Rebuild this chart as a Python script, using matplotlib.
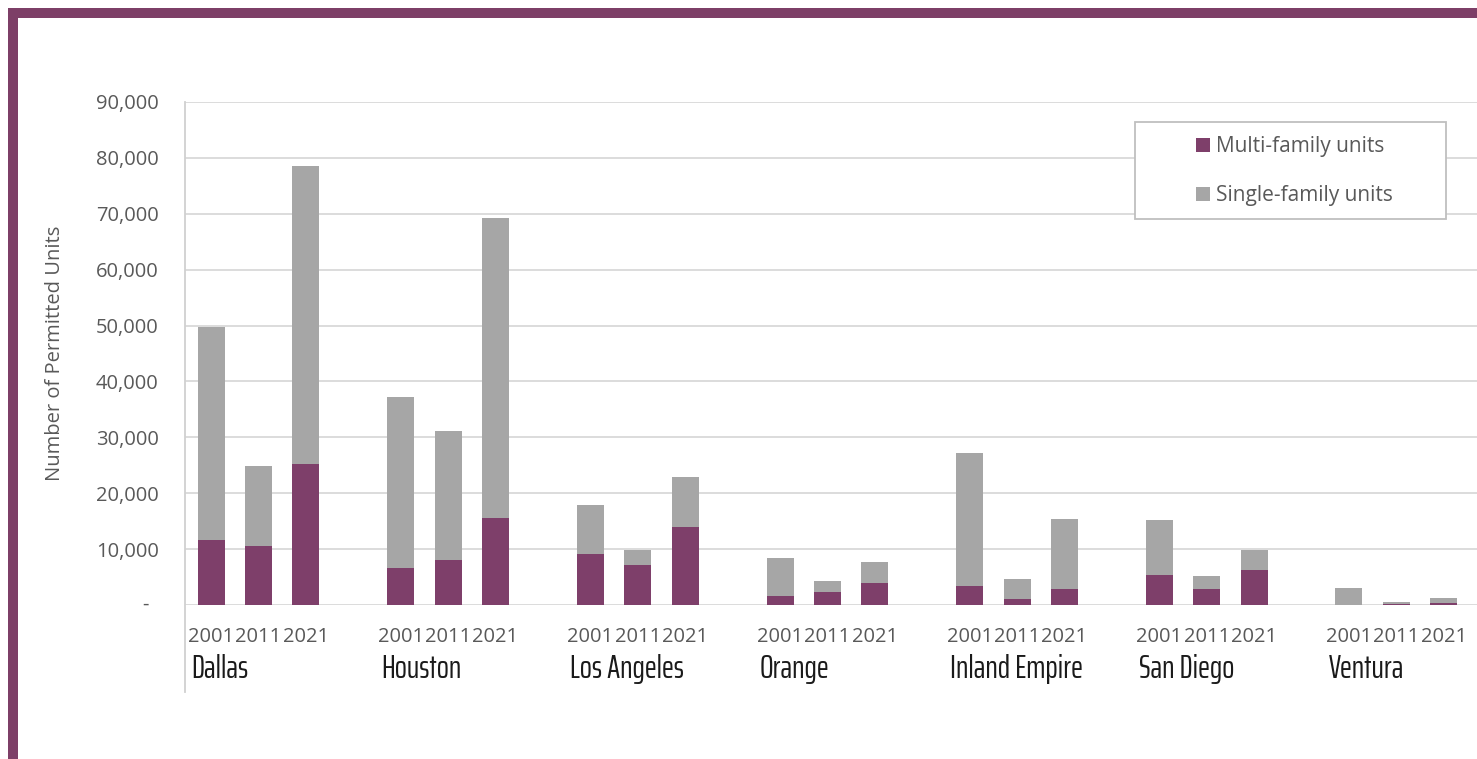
import numpy as np
import matplotlib.pyplot as plt
from matplotlib.patches import Rectangle
from matplotlib.transforms import blended_transform_factory

cities = ["Dallas", "Houston", "Los Angeles", "Orange", "Inland Empire", "San Diego", "Ventura"]
years = ["2001", "2011", "2021"]

# permitted units per city, one value per year
total_units = [
    [49700, 24900, 78500],   # Dallas
    [37200, 31100, 69200],   # Houston
    [17900, 9800, 22900],    # Los Angeles
    [8400, 4300, 7700],      # Orange
    [27200, 4700, 15400],    # Inland Empire
    [15200, 5200, 9800],     # San Diego
    [3000, 500, 1300],       # Ventura
]
multi_units = [
    [11600, 10600, 25200],
    [6600, 8000, 15600],
    [9100, 7200, 14000],
    [1600, 2300, 3900],
    [3400, 1100, 2900],
    [5400, 2900, 6300],
    [0, 100, 400],
]

purple = "#7e3f6a"
grey = "#a6a6a6"
txt_grey = "#595959"
body_font = ["Open Sans", "DejaVu Sans"]
city_font = ["Saira ExtraCondensed", "DejaVu Sans"]

total = np.array(total_units, dtype=float)
multi = np.array(multi_units, dtype=float)
single = total - multi

# each city takes 4 slots: 3 bars + an empty gap
x = np.array([[g * 4 + j for j in range(3)] for g in range(len(cities))], dtype=float)

fig = plt.figure(figsize=(14.77, 7.59), dpi=100)
ax = fig.add_axes([185 / 1477, 1 - 605 / 759, 1 - 185 / 1477, (605 - 102) / 759])

ax.bar(x.ravel(), multi.ravel(), width=0.57, color=purple, label="Multi-family units", zorder=3)
ax.bar(x.ravel(), single.ravel(), width=0.57, bottom=multi.ravel(), color=grey,
       label="Single-family units", zorder=3)

ax.set_ylim(0, 90000)
ax.set_xlim(-0.55, 26.7)
yt = np.arange(0, 90001, 10000)
ax.set_yticks(yt)
ax.set_yticklabels([""] + [f"{v:,}" for v in yt[1:]])
ax.tick_params(axis="y", length=0, pad=19, labelsize=14.5, labelcolor=txt_grey)
for lab in ax.get_yticklabels():
    lab.set_family(body_font)
ax.text(-0.031, 0, "-", transform=blended_transform_factory(ax.transAxes, ax.transData),
        ha="center", va="center", fontsize=14.5, color=txt_grey, family=body_font)

ax.set_xticks(x.ravel())
ax.set_xticklabels(years * len(cities))
ax.tick_params(axis="x", length=0, pad=16, labelsize=14.5, labelcolor=txt_grey)
for lab in ax.get_xticklabels():
    lab.set_family(body_font)

ax.grid(axis="y", color="#d9d9d9", lw=1.3, zorder=0)
for s in ax.spines.values():
    s.set_visible(False)

# category divider line on the left, running down past the city names
ax.plot([0, 0], [1, -0.173], transform=ax.transAxes, color="#d0d0d0", lw=1.3, clip_on=False)

trans = blended_transform_factory(ax.transData, ax.transAxes)
for g, city in enumerate(cities):
    ax.text(x[g, 0] - 0.42, -0.127, city, transform=trans, ha="left", va="center",
            fontsize=23, color="#1a1a1a", family=city_font)

ax.set_ylabel("Number of Permitted Units", fontsize=14.5, color=txt_grey, family=body_font)
ax.yaxis.set_label_coords(-0.093, 0.5)

# legend box (white, covers the gridlines) with the entries placed inside it
fig.add_artist(Rectangle((1135 / 1477, 1 - 219 / 759), 311 / 1477, 97 / 759,
                         transform=fig.transFigure, facecolor="white", edgecolor="#bfbfbf",
                         lw=1.3, zorder=4))
handles, labels = ax.get_legend_handles_labels()
leg = fig.legend(handles, labels, loc="center left", bbox_to_anchor=(1196 / 1477, 1 - 171 / 759),
                 frameon=False, prop={"family": body_font, "size": 15},
                 handlelength=0.65, handleheight=0.65, handletextpad=0.3, labelspacing=1.35,
                 borderpad=0, borderaxespad=0, labelcolor=txt_grey)
leg.set_zorder(5)

# purple frame round the chart
fig.add_artist(Rectangle((13 / 1477, -0.2), 1.5, 1.2 - 13 / 759, transform=fig.transFigure,
                         fill=False, edgecolor="#7d3f67", lw=7.2, clip_on=False))

fig.savefig("out.png", dpi=100)
